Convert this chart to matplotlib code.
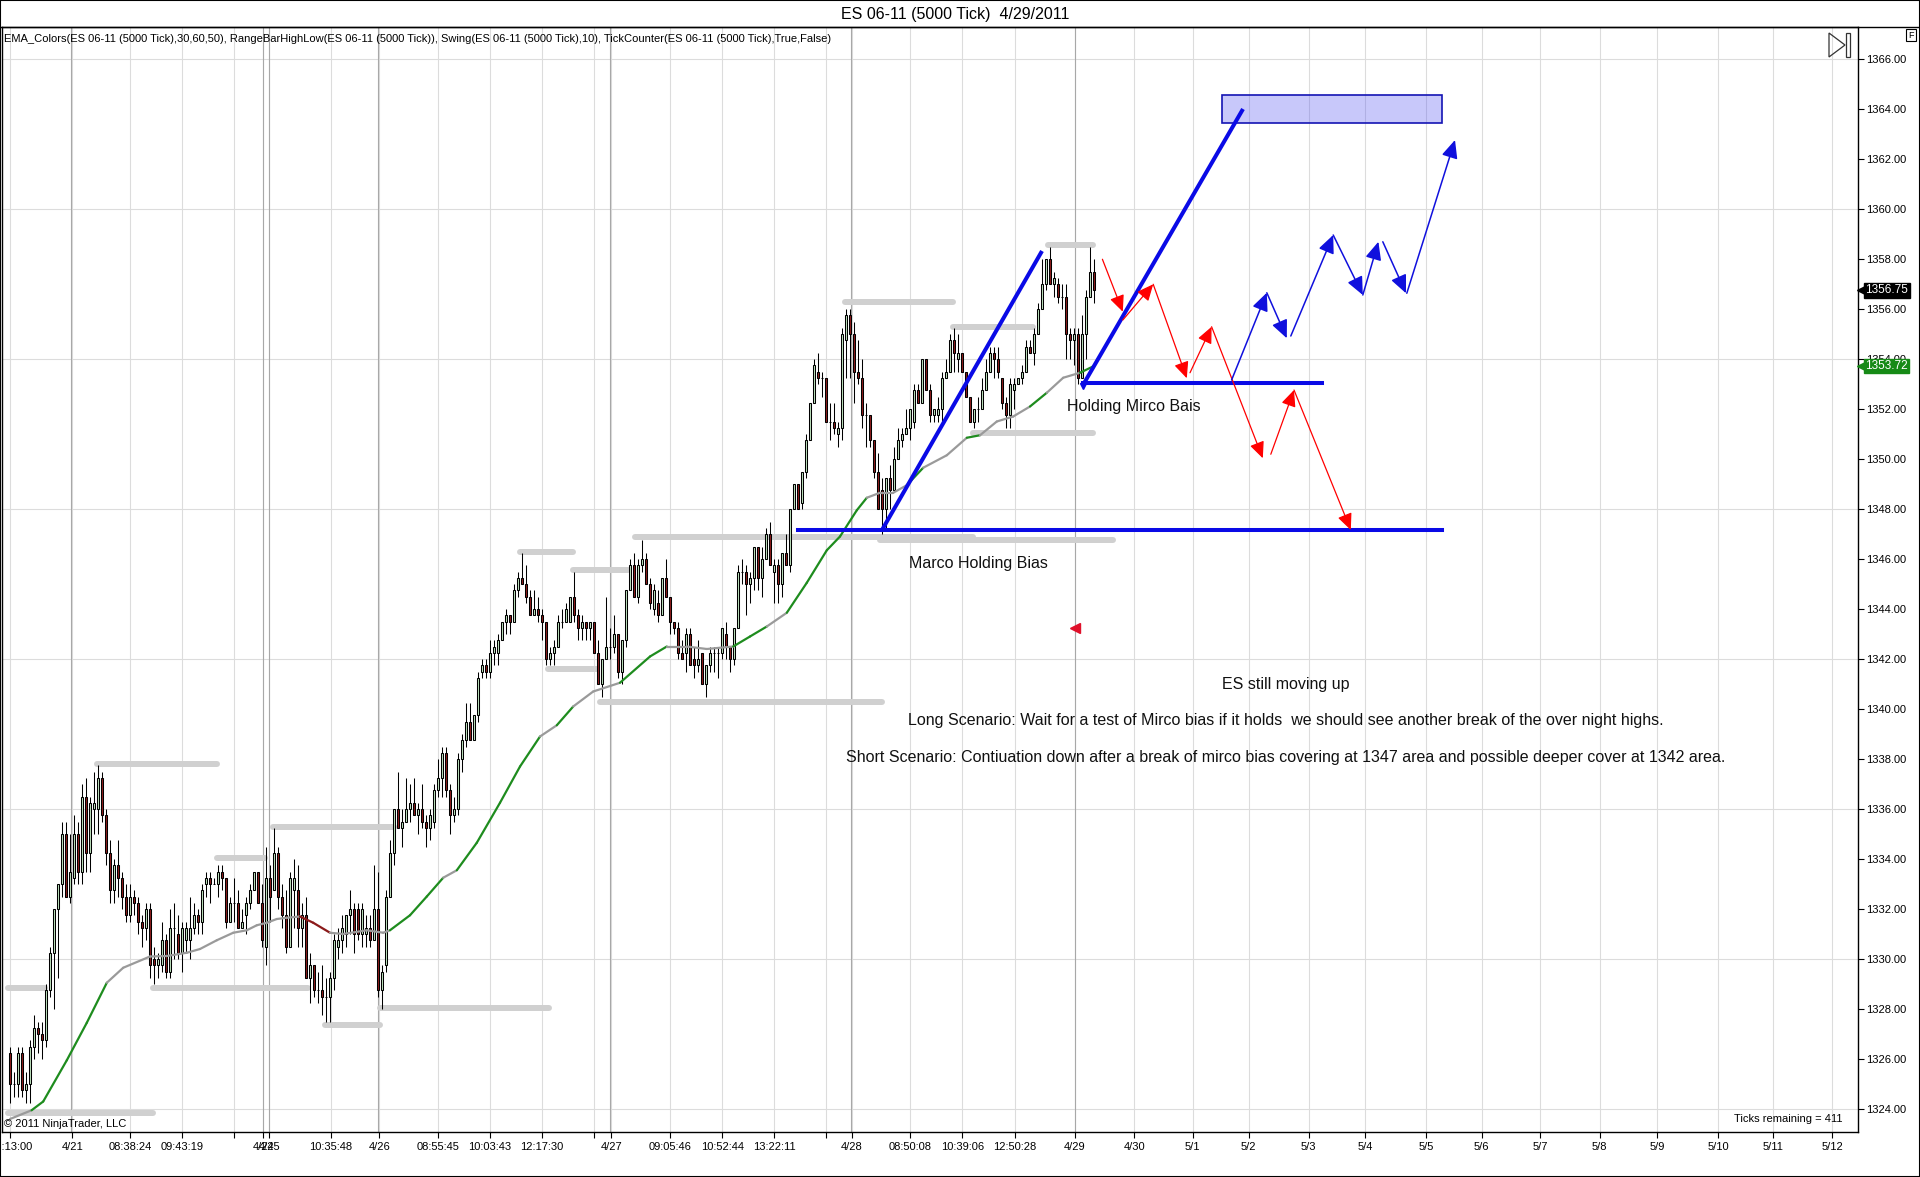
import matplotlib
matplotlib.use("Agg")
import matplotlib.pyplot as plt
import numpy as np
from matplotlib.collections import LineCollection
from matplotlib.patches import Rectangle, Polygon
from matplotlib.transforms import blended_transform_factory
from matplotlib.lines import Line2D

plt.rcParams['font.family'] = ['Liberation Sans', 'DejaVu Sans']

# ---------------- data ----------------
opens = [1326.25,1325.0,1325.0,1326.25,1324.75,1325.0,1326.5,1327.25,1327.0,1326.75,
         1328.75,1330.25,1332.0,1333.0,1335.0,1332.5,1333.25,1335.0,1333.5,1336.5,
         1334.25,1336.0,1336.0,1337.25,1335.75,1334.25,1332.75,1333.75,1333.25,1332.5,
         1331.75,1332.5,1332.25,1331.5,1331.25,1332.0,1330.0,1329.75,1329.75,1330.75,
         1329.5,1331.25,1331.0,1330.25,1330.75,1330.75,1331.25,1331.75,1331.5,1333.0,
         1333.25,1333.0,1333.0,1333.5,1333.25,1331.5,1332.25,1332.25,1331.25,1331.75,
         1332.25,1332.75,1333.5,1332.25,1330.5,1333.25,1332.75,1334.25,1332.5,1331.75,
         1330.5,1332.75,1332.75,
         1331.25,1331.75,1329.25,1329.75,1328.75,1328.75,1328.5,1328.5,1329.25,1330.5,
         1330.75,1331.0,1331.75,1332.0,1332.0,1331.0,1331.0,1331.25,1330.75,1332.0,
         1328.75,1329.75,1332.5,1334.25,1336.0,1335.25,1335.5,1336.0,1336.25,1335.75,
         1336.0,1335.5,1335.25,1335.5,1336.75,1337.25,1338.25,1336.75,1335.75,1336.0,
         1338.0,1338.75,1339.5,1338.75,1339.75,1341.5,1341.75,1341.5,1342.25,1342.25,
         1342.75,1343.5,1343.75,1343.5,1344.75,1345.25,1345.0,1344.5,1343.75,1344.0,
         1343.75,1343.5,1342.0,1342.25,1342.5,1343.5,1343.5,1343.5,1344.5,1343.75,
         1343.25,1343.5,1343.25,1343.5,1342.25,1341.0,1342.0,1342.5,1342.5,1343.0,
         1341.5,1342.75,1344.75,1345.75,1344.5,1345.75,1346.0,1345.0,1344.0,1344.25,
         1343.75,1345.25,1344.5,1343.5,1343.25,1342.25,1342.25,1343.0,1342.0,1341.75,
         1342.25,1341.0,1341.75,1342.25,1342.25,1342.25,1343.0,1342.5,1342.0,1343.25,
         1345.5,1345.5,1345.0,1345.25,1346.5,1345.25,1346.0,1347.0,1345.5,1345.75,
         1345.0,1346.25,1345.75,1348.0,1349.0,1348.25,1349.5,1350.75,1352.25,1353.5,
         1353.25,1353.25,1351.5,1351.5,1351.0,1351.25,1354.75,1355.75,1355.0,1353.5,
         1353.25,1351.75,1351.75,1350.75,1349.5,1348.75,1348.0,
         1349.25,1348.75,1350.0,1350.75,1351.0,1351.25,1351.5,1352.75,1352.25,1354.0,
         1352.75,1351.75,1351.75,1352.0,1353.25,1353.5,1354.75,1354.0,1354.25,1353.5,
         1352.5,1351.5,1352.0,1352.0,1352.75,1353.5,1354.25,1354.0,1353.25,1352.25,
         1351.75,1352.75,1353.0,1353.25,1353.5,1354.5,1354.25,1355.0,1356.0,1357.0,
         1358.0,1357.0,1357.0,1356.5,1356.5,1355.0,1354.75,1355.0,1353.25,1355.0,
         1356.5,1357.5]
highs = [1326.5,1325.5,1326.5,1326.5,1325.5,1326.75,1327.75,1327.5,1327.5,1329.0,
         1330.5,1332.0,1333.0,1335.5,1335.5,1335.0,1335.75,1335.5,1337.0,1337.25,
         1336.5,1337.5,1337.75,1337.5,1336.0,1334.75,1334.0,1334.75,1333.5,1333.0,
         1333.0,1332.75,1332.5,1331.75,1332.25,1332.25,1330.5,1330.25,1331.5,1331.0,
         1332.0,1332.25,1331.75,1331.5,1331.5,1332.5,1332.25,1332.0,1333.0,1333.5,
         1333.5,1333.25,1333.75,1333.75,1333.25,1332.5,1333.25,1332.75,1332.0,1332.5,
         1333.0,1333.5,1333.5,1333.0,1334.5,1333.75,1335.25,1334.5,1333.0,1332.75,
         1333.5,1334.0,1333.75,
         1332.25,1332.5,1330.25,1329.75,1329.5,1329.75,1329.25,1329.5,1331.0,1331.25,
         1331.75,1331.75,1332.75,1332.25,1332.25,1332.25,1331.75,1331.75,1333.75,1333.5,
         1329.75,1332.75,1334.75,1336.0,1337.5,1336.0,1337.25,1337.0,1337.25,1336.25,
         1337.0,1335.75,1336.0,1337.0,1338.0,1338.5,1338.5,1337.0,1336.5,1338.25,
         1339.0,1340.25,1340.25,1339.75,1341.5,1342.0,1342.0,1342.75,1342.75,1343.0,
         1343.5,1344.0,1343.75,1345.0,1345.5,1346.25,1345.75,1344.75,1344.75,1344.5,
         1344.0,1343.5,1342.5,1342.75,1343.75,1344.0,1344.25,1344.5,1345.5,1344.0,
         1343.75,1343.5,1343.5,1343.5,1342.75,1342.0,1344.5,1343.25,1343.75,1343.0,
         1342.75,1344.75,1346.0,1346.25,1346.0,1346.75,1346.25,1345.25,1345.0,1344.75,
         1345.25,1346.0,1344.5,1343.5,1343.5,1342.75,1343.25,1343.25,1342.5,1342.75,
         1342.25,1341.75,1342.5,1342.5,1342.5,1343.25,1343.5,1342.5,1343.25,1345.75,
         1346.0,1345.75,1345.5,1346.5,1346.5,1346.5,1347.25,1347.5,1346.0,1346.0,
         1346.25,1347.0,1348.0,1349.0,1349.0,1349.5,1351.0,1352.25,1354.0,1354.25,
         1353.5,1353.25,1352.25,1352.25,1351.5,1355.25,1356.0,1356.0,1355.5,1354.75,
         1354.0,1352.25,1351.75,1350.75,1350.25,1349.25,1349.25,
         1349.75,1350.5,1351.25,1351.25,1352.0,1352.0,1353.0,1353.0,1354.0,1354.0,
         1353.0,1352.0,1352.5,1353.5,1354.0,1355.0,1355.25,1355.0,1354.25,1353.5,
         1352.5,1352.0,1352.5,1353.25,1354.0,1354.5,1354.5,1354.5,1353.25,1352.5,
         1353.25,1353.25,1353.25,1353.75,1354.75,1354.75,1355.25,1356.25,1358.0,1358.0,
         1358.5,1357.5,1357.25,1357.0,1357.0,1355.25,1355.25,1355.25,1355.75,1356.75,
         1358.5,1358.0]
lows = [1324.25,1324.5,1324.5,1324.5,1324.25,1324.25,1326.0,1326.25,1326.0,1326.5,
        1328.5,1328.0,1329.25,1332.5,1332.5,1332.25,1333.0,1333.0,1333.0,1333.5,
        1333.5,1335.0,1335.0,1335.5,1333.75,1332.25,1332.25,1332.5,1332.0,1331.5,
        1331.5,1331.75,1331.0,1330.5,1330.75,1329.25,1329.0,1329.25,1329.5,1329.25,
        1329.25,1330.0,1330.0,1329.5,1330.25,1330.0,1331.0,1331.0,1331.0,1332.5,
        1332.25,1333.0,1332.5,1332.75,1331.25,1331.5,1331.5,1331.25,1331.25,1331.0,
        1332.0,1332.75,1332.25,1330.5,1329.75,1331.5,1332.75,1332.0,1331.25,1330.25,
        1330.5,1331.25,1330.5,
        1330.5,1329.25,1328.25,1328.5,1328.25,1327.75,1327.5,1327.5,1328.75,1330.0,
        1330.25,1330.5,1331.0,1330.25,1330.75,1330.5,1330.5,1330.5,1330.75,1328.5,
        1328.0,1329.5,1332.5,1333.75,1335.25,1334.5,1335.5,1335.5,1335.75,1335.0,
        1335.25,1334.5,1334.75,1335.25,1336.5,1336.5,1336.5,1335.0,1335.5,1335.75,
        1337.5,1338.5,1338.75,1338.75,1339.5,1341.25,1341.25,1341.25,1341.75,1341.75,
        1342.75,1343.0,1343.0,1343.5,1344.5,1345.0,1344.25,1343.75,1343.75,1343.5,
        1342.75,1341.75,1341.75,1341.75,1342.5,1343.25,1343.5,1343.5,1343.5,1342.75,
        1342.75,1342.75,1342.75,1342.25,1341.0,1340.5,1342.0,1342.0,1342.25,1341.25,
        1341.0,1342.5,1344.75,1344.5,1344.25,1345.5,1345.0,1344.0,1343.75,1343.5,
        1343.75,1344.5,1343.0,1343.0,1342.0,1342.0,1341.5,1341.75,1341.25,1341.5,
        1341.0,1340.5,1341.5,1341.5,1341.25,1342.0,1342.0,1341.5,1341.75,1343.25,
        1345.0,1343.75,1344.25,1344.75,1344.75,1344.5,1346.0,1345.75,1344.25,1344.25,
        1344.5,1345.75,1345.5,1348.0,1348.0,1348.0,1349.25,1350.75,1352.25,1353.0,
        1352.5,1351.5,1350.75,1351.0,1350.5,1350.75,1353.25,1353.25,1352.25,1353.0,
        1351.25,1350.5,1350.5,1349.25,1348.0,1347.0,1347.25,
        1348.0,1348.75,1350.0,1350.5,1351.0,1350.75,1351.25,1352.25,1352.25,1352.75,
        1351.5,1351.5,1351.5,1351.5,1353.25,1353.5,1353.5,1353.5,1353.5,1352.5,
        1351.5,1351.25,1351.5,1352.0,1352.75,1353.5,1353.25,1353.25,1352.0,1351.25,
        1351.25,1352.0,1353.0,1353.0,1353.5,1354.25,1353.75,1355.0,1356.0,1356.75,
        1357.0,1356.5,1356.25,1356.0,1354.0,1354.0,1353.75,1353.0,1353.25,1354.0,
        1356.5,1356.25]
closes = [1325.0,1325.0,1326.25,1324.75,1325.0,1326.5,1327.25,1327.0,1326.75,1328.75,
          1330.25,1332.0,1333.0,1335.0,1332.5,1333.5,1335.0,1333.5,1336.5,1334.25,
          1336.25,1336.25,1337.25,1335.75,1334.25,1332.75,1333.75,1333.25,1332.5,1331.75,
          1332.5,1332.25,1331.5,1331.25,1332.0,1329.75,1329.75,1330.0,1330.75,1329.5,
          1331.25,1331.25,1330.25,1331.25,1331.25,1331.25,1331.75,1331.5,1332.75,1333.25,
          1333.0,1333.0,1333.5,1333.25,1331.5,1332.25,1332.25,1331.25,1331.5,1332.25,
          1332.75,1333.5,1332.25,1330.75,1333.25,1332.5,1334.25,1332.5,1331.75,1330.5,
          1333.25,1333.25,1331.25,
          1331.75,1329.25,1329.75,1328.75,1328.75,1328.5,1328.5,1329.25,1330.75,1330.75,
          1331.25,1331.75,1332.0,1331.0,1331.0,1332.0,1331.25,1330.75,1332.0,1328.75,
          1329.5,1332.5,1334.25,1336.0,1335.25,1335.5,1336.0,1336.25,1335.75,1336.0,
          1335.5,1335.25,1335.75,1336.75,1337.25,1338.25,1336.75,1335.75,1336.0,1338.0,
          1338.75,1339.5,1338.75,1339.75,1341.25,1341.75,1341.5,1342.25,1342.5,1342.75,
          1343.5,1343.75,1343.5,1344.75,1345.25,1345.0,1344.5,1343.75,1344.0,1343.75,
          1343.5,1342.0,1342.25,1342.5,1343.5,1343.5,1344.0,1344.5,1343.75,1343.25,
          1343.5,1343.25,1343.5,1342.25,1341.0,1342.0,1342.5,1342.5,1343.0,1341.5,
          1342.75,1344.75,1345.75,1344.5,1345.75,1346.0,1345.0,1344.25,1344.75,1343.75,
          1345.25,1344.5,1343.5,1343.25,1342.25,1342.0,1343.0,1341.75,1341.75,1342.0,
          1341.0,1341.75,1342.25,1342.25,1342.25,1343.25,1342.5,1342.0,1343.25,1345.5,
          1345.5,1345.0,1345.25,1346.5,1345.25,1346.0,1347.0,1345.75,1345.75,1345.0,
          1346.25,1345.75,1348.0,1349.0,1348.0,1349.5,1350.75,1352.25,1353.75,1353.25,
          1353.25,1351.5,1351.5,1351.25,1351.25,1355.0,1355.75,1355.0,1353.5,1353.25,
          1351.75,1351.75,1350.75,1349.5,1348.0,1348.0,1349.25,
          1348.75,1350.0,1350.75,1351.0,1351.25,1352.0,1352.75,1352.25,1354.0,1352.75,
          1351.75,1352.0,1352.0,1353.25,1353.5,1354.75,1354.25,1354.25,1353.5,1352.5,
          1351.5,1352.0,1352.0,1352.75,1353.5,1354.25,1354.0,1353.5,1352.25,1351.75,
          1353.0,1353.0,1353.25,1353.5,1354.5,1354.25,1355.0,1356.0,1357.0,1358.0,
          1357.0,1357.25,1356.5,1356.5,1355.0,1354.75,1355.0,1353.25,1355.0,1356.5,
          1357.5,1356.75]

# EMA (read at sparse points) and its colour state per segment
ema_x = [0, 5.4, 8.3, 14.2, 19.2, 24.2, 28.3, 35, 39.2, 44.2, 47.5, 51.7, 55.8, 59.2, 61.7,
         64.2, 66.7, 69.2, 72.5, 75.8, 80, 83.3, 89.2, 93.3, 95, 100, 104.2, 108.3, 111.7,
         116.7, 122.5, 127.5, 132.5, 136.7, 140.8, 145.8, 152.5, 160, 164.2, 169.2, 174.2,
         180.8, 185, 189.2, 194.2, 199.2, 204.2, 207.5, 211.7, 214.2, 217.5, 220.8, 224.2,
         228.3, 234.2, 239.2, 242.5, 246.7, 250.8, 255, 259.2, 263.3, 267.5, 271]
ema_y = [1323.6, 1323.95, 1324.3, 1325.95, 1327.45, 1329.05, 1329.65, 1330.1, 1330.12,
         1330.25, 1330.4, 1330.75, 1331.05, 1331.15, 1331.35, 1331.45, 1331.6, 1331.65,
         1331.7, 1331.45, 1331.05, 1331.0, 1331.15, 1331.05, 1331.15, 1331.75, 1332.5,
         1333.25, 1333.55, 1334.65, 1336.25, 1337.7, 1338.9, 1339.35, 1340.1, 1340.7,
         1341.05, 1342.1, 1342.5, 1342.5, 1342.4, 1342.5, 1342.9, 1343.3, 1343.85, 1345.05,
         1346.35, 1346.9, 1347.95, 1348.45, 1348.65, 1348.65, 1348.95, 1349.65, 1350.15,
         1350.85, 1350.95, 1351.5, 1351.7, 1352.1, 1352.65, 1353.25, 1353.45, 1353.72]
ema_state = ("k" "gggg" "kkkkkkkkkkkkk" "rr" "kkkk" "ggg" "k" "gggg" "k" "g" "kk" "gg"
             "kkk" "gg" "k" "ggggg" "kkk" "g" "kk" "g" "kkk" "g" "kk" "g")

# RangeBarHighLow / Swing levels
swing_y = [1328.84, 1328.84, 1337.8, 1334.05, 1335.27, 1327.36, 1328.05, 1323.84, 1346.28,
           1345.56, 1341.59, 1340.28, 1346.89, 1356.29, 1346.75, 1355.29, 1358.56, 1351.05]
swing_x0 = [-0.5, 35.75, 21.75, 51.75, 65.75, 78.75, 92.5, -0.5, 127.5, 140.75, 134.5,
            147.5, 156.25, 208.75, 217.5, 235.75, 259.5, 240.75]
swing_x1 = [8.75, 74.5, 51.75, 63.75, 96, 92.5, 134.75, 35.75, 140.75, 154.5, 146.75,
            218, 240.75, 235.75, 275.75, 255.75, 270.75, 270.75]

# drawn objects
trend_x0 = [218, 268.25]
trend_y0 = [1347.16, 1352.96]
trend_x1 = [258, 308.25]
trend_y1 = [1358.32, 1364.0]
macro_y, macro_x0, macro_x1 = 1347.16, 197, 358
micro_y, micro_x0, micro_x1 = 1353.03, 268.25, 328
rect_x0, rect_x1, rect_y0, rect_y1 = 303, 358, 1363.44, 1364.56

red_x0 = [273.1, 278.2, 285.8, 295.0, 300.4, 315.2, 321.0]
red_y0 = [1357.99, 1355.56, 1356.99, 1353.45, 1355.29, 1350.19, 1352.76]
red_x1 = [278.2, 285.8, 294.2, 300.4, 313.2, 321.0, 335.2]
red_y1 = [1355.89, 1356.99, 1353.23, 1355.29, 1350.03, 1352.76, 1347.16]

blue_x0 = [305.4, 314.2, 320.2, 330.8, 338.2, 343.2, 349.2]
blue_y0 = [1353.16, 1356.65, 1354.92, 1358.96, 1356.56, 1358.69, 1356.63]
blue_x1 = [314.2, 319.2, 330.8, 338.2, 342.1, 349.0, 361.25]
blue_y1 = [1356.65, 1354.83, 1358.96, 1356.56, 1358.69, 1356.63, 1362.76]

marker_x, marker_y = 266.25, 1343.24

notes = [
    (281.0, 1352.1, "Holding Mirco Bais"),
    (242.1, 1345.83, "Marco Holding Bias"),
    (318.9, 1341.0, "ES still moving up"),
    (318.9, 1339.52, "Long Scenario: Wait for a test of Mirco bias if it holds  we should see another break of the over night highs."),
    (318.9, 1338.05, "Short Scenario: Contiuation down after a break of mirco bias covering at 1347 area and possible deeper cover at 1342 area."),
]

ticks_x = [0.1, 15.6, 30.1, 43.0, 56.1, 63.3, 64.8, 80.2, 92.3, 106.9, 119.9, 133.0, 146.0,
           150.3, 164.9, 178.1, 191.1, 204.1, 210.4, 225.1, 238.1, 251.3, 266.2, 281.1,
           295.7, 309.7, 324.7, 338.8, 354.1, 367.9, 382.6, 397.4, 411.7, 427.0, 440.8, 455.6]
ticks_lab = ["16:13:00", "4/21", "08:38:24", "09:43:19", "", "4/24", "4/25", "10:35:48",
             "4/26", "08:55:45", "10:03:43", "12:17:30", "", "4/27", "09:05:46", "10:52:44",
             "13:22:11", "", "4/28", "08:50:08", "10:39:06", "12:50:28", "4/29", "4/30",
             "5/1", "5/2", "5/3", "5/4", "5/5", "5/6", "5/7", "5/8", "5/9", "5/10", "5/11", "5/12"]
session_x = [15.3, 63.3, 64.8, 92.1, 150.1, 210.2, 266.25]
price_ticks = list(range(1324, 1368, 2))
hgrid = list(range(1324, 1368, 6))

# ---------------- figure ----------------
W, H = 1920, 1177
fig = plt.figure(figsize=(W / 100, H / 100), dpi=100)
fig.patch.set_facecolor('white')
ax = fig.add_axes([2.45 / W, 1 - 1132 / H, (1857.6 - 2.45) / W, (1132 - 27) / H])
ax.set_xlim(-1.89, 461.9)
ax.set_ylim(1323.08, 1367.28)

# grid
ax.hlines(hgrid, -5, 470, colors='#dcdcdc', linewidth=0.8, zorder=0)
ax.vlines(ticks_x, 1320, 1370, colors='#dcdcdc', linewidth=0.8, zorder=0)
ax.vlines(session_x, 1320, 1370, colors='#a8a8a8', linewidth=0.8, zorder=1)

# swing levels
for y, a, b in zip(swing_y, swing_x0, swing_x1):
    ax.plot([a, b], [y, y], color='#d0d0d0', linewidth=4.3, solid_capstyle='round', zorder=2)

# candles
o = np.array(opens); h = np.array(highs); l = np.array(lows); c = np.array(closes)
xs = np.arange(len(o))
up = c >= o
ax.vlines(xs, l, h, colors='black', linewidth=0.75, zorder=3)
ax.bar(xs, np.abs(c - o), bottom=np.minimum(o, c), width=0.62,
       color=np.where(up, '#bfe3bf', '#8c1c1c'), edgecolor='black', linewidth=0.75, zorder=4)

# EMA
pts = np.column_stack([ema_x, ema_y])
segs = np.stack([pts[:-1], pts[1:]], axis=1)
cmap = {'g': '#1e8c1e', 'k': '#9a9a9a', 'r': '#8b1a1a'}
ax.add_collection(LineCollection(segs, colors=[cmap[s] for s in ema_state],
                                 linewidths=1.6, capstyle='round', zorder=5))

# drawings
blue = '#0a0ae6'
ax.add_patch(Rectangle((rect_x0, rect_y0), rect_x1 - rect_x0, rect_y1 - rect_y0,
                       facecolor=(0.35, 0.35, 0.95, 0.33), edgecolor='#1414b4', linewidth=1.2, zorder=6))
for a, b, cc, d in zip(trend_x0, trend_y0, trend_x1, trend_y1):
    ax.plot([a, cc], [b, d], color=blue, linewidth=2.9, solid_capstyle='butt', zorder=7)
ax.plot([macro_x0, macro_x1], [macro_y, macro_y], color=blue, linewidth=2.9, zorder=7)
ax.plot([micro_x0, micro_x1], [micro_y, micro_y], color=blue, linewidth=2.9, zorder=7)
ax.plot([micro_x0], [micro_y - 0.12], marker='v', color=blue, markersize=5, zorder=7)

for a, b, cc, d in zip(red_x0, red_y0, red_x1, red_y1):
    ax.annotate('', xy=(cc, d), xytext=(a, b),
                arrowprops=dict(arrowstyle='-|>,head_length=1.0,head_width=0.45', color='#ff0000',
                                lw=0.9, mutation_scale=10, shrinkA=0, shrinkB=0), zorder=8)
for a, b, cc, d in zip(blue_x0, blue_y0, blue_x1, blue_y1):
    ax.annotate('', xy=(cc, d), xytext=(a, b),
                arrowprops=dict(arrowstyle='-|>,head_length=1.0,head_width=0.45', color='#1010dd',
                                lw=1.1, mutation_scale=11, shrinkA=0, shrinkB=0), zorder=8)

ax.plot([marker_x], [marker_y], marker='<', color='#e0102a', markersize=7, zorder=8)

for x, y, t in notes:
    ax.text(x, y, t, ha='center', va='center', fontsize=11.5, color='#111111', zorder=9)

# axes styling
for s in ax.spines.values():
    s.set_color('black'); s.set_linewidth(1.0)
ax.yaxis.tick_right()
ax.set_yticks(price_ticks)
ax.set_yticklabels([f"{v:.2f}" for v in price_ticks])
ax.tick_params(axis='y', direction='out', length=4.3, width=0.8, pad=2, labelsize=8)
ax.set_xticks(ticks_x)
ax.set_xticklabels(ticks_lab)
ax.tick_params(axis='x', direction='out', length=4, width=0.8, pad=3, labelsize=8)

# price tags
tr = blended_transform_factory(ax.transAxes, ax.transData)
for val, col in [(closes[-1], 'black'), (ema_y[-1], '#168a16')]:
    ax.plot([1.0022], [val], marker='<', color=col, markersize=7.5, transform=tr, clip_on=False, zorder=10)
    ax.text(1.0042, val, f"{val:.2f}", transform=tr, ha='left', va='center', fontsize=8.5, color='white',
            bbox=dict(boxstyle='square,pad=0.12', facecolor=col, edgecolor=col), clip_on=False, zorder=11)

# texts
fig.text(955 / W, 1 - 14 / H, "ES 06-11 (5000 Tick)  4/29/2011", ha='center', va='center', fontsize=11.5)
fig.text(4 / W, 1 - 39 / H,
         "EMA_Colors(ES 06-11 (5000 Tick),30,60,50), RangeBarHighLow(ES 06-11 (5000 Tick)), "
         "Swing(ES 06-11 (5000 Tick),10), TickCounter(ES 06-11 (5000 Tick),True,False)",
         ha='left', va='center', fontsize=8)
fig.text(4 / W, 1 - 1124 / H, "\u00a9 2011 NinjaTrader, LLC", ha='left', va='center', fontsize=8)
fig.text(1843 / W, 1 - 1119 / H, "Ticks remaining = 411", ha='right', va='center', fontsize=8)
fig.text(1911 / W, 1 - 35 / H, "F", ha='center', va='center', fontsize=6.5,
         bbox=dict(boxstyle='square,pad=0.2', facecolor='white', edgecolor='black', linewidth=0.8))

# play-to-end icon
fig.add_artist(Polygon([[1829 / W, 1 - 33 / H], [1845 / W, 1 - 45 / H], [1829 / W, 1 - 57 / H]],
                       closed=True, fill=False, edgecolor='#333333', linewidth=0.9, transform=fig.transFigure))
fig.add_artist(Rectangle((1846 / W, 1 - 57 / H), 4 / W, 24 / H, fill=False, edgecolor='#333333',
                         linewidth=0.9, transform=fig.transFigure))

# frame lines
fig.add_artist(Line2D([0, 1], [1 - 27 / H, 1 - 27 / H], color='black', linewidth=1.0, transform=fig.transFigure))
fig.add_artist(Rectangle((0, 0), 1, 1, fill=False, edgecolor='black', linewidth=1.5, transform=fig.transFigure))

fig.savefig('out.png', dpi=100)
